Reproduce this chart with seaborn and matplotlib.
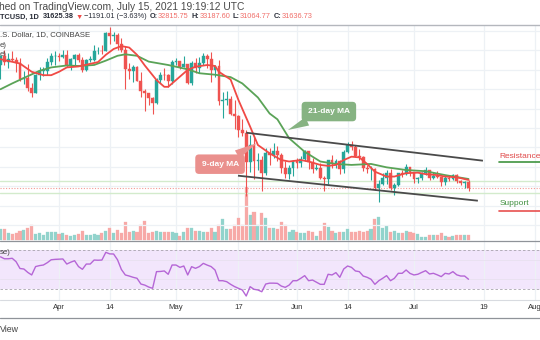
import matplotlib
matplotlib.use("Agg")
import matplotlib.pyplot as plt
from matplotlib.lines import Line2D
import numpy as np
import pandas as pd
import seaborn as sns

# ---------------- data (BTC/USD daily, thousands of USD) ----------------
first_day = "2021-03-17"
opens = [56.9, 58.9, 57.6, 58.3, 58.1, 57.4, 54.1, 54.3, 52.3, 51.3,
         55.0, 55.8, 55.8, 57.6, 58.8, 58.8, 58.7, 59.0, 57.1, 58.2,
         59.1, 58.0, 56.0, 58.1, 58.1, 59.8, 59.9, 59.8, 63.6, 62.9,
         63.2, 61.4, 60.0, 56.2, 55.7, 56.5, 53.8, 51.7, 51.2, 50.1,
         49.1, 54.0, 55.0, 54.9, 53.6, 57.7, 57.8, 56.6, 57.2, 53.2,
         57.5, 56.4, 57.4, 58.9, 58.3, 55.9, 56.8, 49.5, 49.7, 49.9,
         46.8, 46.4, 43.6, 42.9, 37.0, 40.6, 37.3, 37.5, 34.7, 38.8,
         38.4, 39.3, 38.5, 35.7, 34.6, 35.7, 37.3, 36.7, 37.6, 39.2,
         36.9, 35.5, 35.8, 33.6, 33.4, 37.4, 36.7, 37.3, 35.6, 39.1,
         40.5, 40.1, 38.3, 38.1, 35.8, 35.5, 35.6, 31.7, 32.5, 33.7,
         34.7, 31.6, 32.2, 34.7, 34.5, 35.9, 35.0, 33.5, 33.8, 34.7,
         35.3, 33.7, 34.2, 33.9, 32.9, 33.8, 33.5, 34.3, 33.1, 32.7,
         32.82]
highs = [59.0, 60.1, 59.5, 59.9, 58.6, 58.4, 55.8, 57.2, 53.2, 55.1,
         56.6, 56.6, 58.4, 59.4, 59.8, 59.5, 60.0, 60.0, 58.5, 59.3,
         59.5, 58.7, 58.2, 58.9, 61.2, 60.7, 61.2, 63.8, 64.9, 63.8,
         63.6, 62.6, 61.0, 57.5, 57.0, 56.8, 55.5, 52.1, 51.2, 50.5,
         54.4, 55.5, 56.4, 55.2, 58.0, 58.5, 57.9, 58.9, 57.2, 57.9,
         58.4, 58.6, 59.5, 59.3, 59.6, 56.9, 58.0, 51.4, 51.6, 50.7,
         49.8, 46.6, 45.8, 43.6, 42.5, 42.2, 38.8, 38.3, 39.9, 39.8,
         40.9, 40.4, 38.9, 37.3, 36.4, 37.5, 37.9, 38.2, 39.5, 39.3,
         37.9, 36.5, 36.8, 34.1, 37.5, 38.4, 37.7, 37.5, 39.4, 41.1,
         41.3, 40.5, 39.6, 38.2, 36.4, 36.1, 35.7, 33.3, 34.8, 35.3,
         35.5, 32.7, 34.7, 35.3, 36.6, 36.0, 35.0, 33.9, 34.9, 35.9,
         35.3, 35.0, 35.1, 33.9, 34.1, 34.3, 34.6, 34.6, 33.3, 33.1,
         33.19]
lows = [54.1, 57.0, 56.3, 57.8, 55.5, 53.7, 53.0, 51.7, 50.4, 51.3,
        53.9, 54.7, 54.9, 57.0, 56.9, 57.9, 58.5, 56.5, 56.0, 56.8,
        57.7, 55.5, 55.8, 57.7, 57.9, 59.2, 59.3, 59.8, 61.3, 62.0,
        60.0, 59.6, 52.0, 54.2, 53.4, 53.6, 50.5, 47.5, 48.7, 47.0,
        48.9, 53.3, 53.9, 52.4, 53.1, 57.1, 56.1, 56.5, 53.1, 52.9,
        55.3, 55.4, 56.9, 56.3, 53.5, 54.5, 48.8, 46.0, 48.8, 46.6,
        43.8, 42.1, 42.3, 30.0, 35.0, 33.5, 35.3, 31.1, 34.3, 36.4,
        37.8, 37.2, 34.7, 33.6, 33.4, 34.2, 35.7, 35.9, 37.2, 35.6,
        34.8, 35.3, 33.4, 31.0, 32.4, 35.8, 35.7, 34.6, 34.8, 38.8,
        39.5, 38.1, 37.4, 35.1, 34.8, 33.3, 31.3, 28.8, 32.3, 32.4,
        31.3, 30.2, 32.0, 33.9, 34.3, 34.1, 32.7, 32.7, 33.3, 34.4,
        33.2, 33.5, 33.8, 32.1, 32.3, 33.0, 33.3, 32.7, 32.2, 31.6,
        31.06]
closes = [58.9, 57.6, 58.3, 58.1, 57.4, 54.1, 54.3, 52.3, 51.3, 55.0,
          55.8, 55.8, 57.6, 58.8, 58.8, 58.7, 59.0, 57.1, 58.2, 59.1,
          58.0, 56.0, 58.1, 58.1, 59.8, 59.9, 59.8, 63.6, 62.9, 63.2,
          61.4, 60.0, 56.2, 55.7, 56.5, 53.8, 51.7, 51.2, 50.1, 49.1,
          54.0, 55.0, 54.9, 53.6, 57.7, 57.8, 56.6, 57.2, 53.2, 57.5,
          56.4, 57.4, 58.9, 58.3, 55.9, 56.8, 49.5, 49.7, 49.9, 46.8,
          46.4, 43.6, 42.9, 37.0, 40.6, 37.3, 37.5, 34.7, 38.8, 38.4,
          39.3, 38.5, 35.7, 34.6, 35.7, 37.3, 36.7, 37.6, 39.2, 36.9,
          35.5, 35.8, 33.6, 33.4, 37.4, 36.7, 37.3, 35.6, 39.1, 40.5,
          40.1, 38.3, 38.1, 35.8, 35.5, 35.6, 31.7, 32.5, 33.7, 34.7,
          31.6, 32.2, 34.7, 34.5, 35.9, 35.0, 33.5, 33.8, 34.7, 35.3,
          33.7, 34.2, 33.9, 32.9, 33.8, 33.5, 34.3, 33.1, 32.7, 32.8,
          31.64]
volume_k = [10.7, 10.7, 7.3, 5.7, 6.7, 9.3, 10.0, 12.3, 15.0, 5.7,
            6.7, 5.0, 8.3, 7.7, 8.3, 5.7, 6.7, 5.0, 4.0, 5.0,
            6.0, 9.3, 5.0, 5.0, 6.0, 5.0, 6.7, 9.3, 11.7, 6.7,
            10.0, 6.7, 18.3, 8.3, 9.0, 8.3, 15.0, 19.0, 6.7, 7.7,
            9.3, 7.7, 7.7, 7.7, 8.3, 6.7, 4.0, 8.3, 11.7, 11.7,
            9.3, 9.3, 8.3, 8.3, 11.7, 8.3, 15.0, 20.7, 11.0, 11.0,
            15.0, 21.7, 15.0, 53.0, 25.0, 28.3, 15.0, 26.7, 21.7, 12.0,
            11.7, 11.0, 18.3, 15.0, 8.3, 10.0, 8.3, 7.3, 7.3, 9.0,
            7.7, 4.3, 9.0, 17.3, 12.7, 9.0, 7.3, 7.7, 7.7, 11.0,
            8.3, 8.3, 9.3, 7.7, 9.0, 10.7, 20.7, 23.3, 11.7, 14.0,
            8.3, 9.0, 7.3, 7.3, 9.0, 7.7, 7.3, 6.0, 3.3, 3.3,
            5.0, 5.0, 5.0, 6.7, 4.0, 2.7, 4.0, 5.0, 5.0, 5.0,
            5.0]
rsi_vals = [63, 61, 61, 61.5, 58, 51, 50.5, 47, 44.4, 53,
            54, 54.6, 57, 60, 60.4, 60.6, 60.8, 55.6, 57.5, 59,
            53, 50.2, 55.6, 55.6, 59.7, 59.5, 59.7, 67.6, 66, 65.9,
            60, 50, 44.4, 43.3, 42, 41, 35.1, 34, 32, 30.7,
            47.8, 48, 48.5, 45.1, 54.6, 54.6, 52.2, 53.6, 44.4, 52.9,
            51.2, 53, 56.3, 54.5, 53, 49.5, 38.5, 38.5, 37.5, 34.8,
            32.5, 30.7, 29, 22.8, 32.4, 29.7, 29, 27.2, 35.1, 36,
            36, 35.8, 33, 31.7, 34, 38.5, 38.5, 41, 43.7, 38.5,
            39.2, 37, 34.8, 34.8, 45.1, 44.4, 46.8, 42, 50.5, 53.6,
            52.2, 48.5, 47.8, 43.3, 42, 40, 34.8, 38.5, 41, 43.7,
            38.5, 41, 46.1, 46.1, 49.5, 46, 44.4, 45.1, 47, 48.8,
            45.4, 46.1, 44.5, 42.7, 46.1, 45.4, 47.8, 44.5, 43.3, 43.3,
            40]
ma9_days = [0, 5, 8, 11, 13, 15, 17, 20, 25, 27, 29, 31, 33, 35, 37, 40,
            42, 43, 45, 48, 50, 53, 55, 56, 59, 61, 64, 66, 69, 72, 74,
            77, 79, 82, 84, 86, 88, 90, 92, 94, 96, 99, 101, 104, 107,
            109, 112, 114, 117, 120]
ma9_vals = [58.2, 57.3, 55.6, 54.9, 54.9, 55.6, 56.5, 56.7, 57.6, 59.1,
            60.3, 60.9, 60.6, 59.1, 56.9, 53.9, 52.5, 52.5, 53.9, 56.0,
            56.65, 57.0, 56.8, 55.6, 54.0, 49.8, 44.3, 40.5, 38.8, 37.4,
            37.1, 37.4, 37.1, 36.4, 36.2, 36.4, 37.4, 38.1, 37.95, 36.6,
            35.0, 34.0, 34.0, 34.7, 34.8, 34.5, 34.3, 34.0, 33.85, 33.3]
ma21_days = [0, 3, 7, 10, 13, 17, 20, 24, 27, 30, 32, 35, 38, 43, 48, 51,
             55, 59, 62, 66, 69, 71, 74, 78, 82, 86, 90, 95, 99, 104, 109,
             114, 120]
ma21_vals = [52.0, 53.2, 54.7, 55.8, 56.5, 56.9, 56.8, 57.0, 57.9, 58.9,
             59.2, 58.9, 57.7, 57.0, 56.1, 55.3, 55.0, 54.5, 53.2, 50.3,
             47.0, 45.8, 41.9, 39.1, 37.1, 36.6, 36.4, 36.6, 35.9, 35.35,
             35.1, 34.3, 33.5]
tick_days = [15, 28, 45, 61, 76, 89, 106, 124, 137]
tick_labels = ["Apr", "14", "May", "17", "Jun", "14", "Jul", "19", "Aug"]
channel_upper = ([63.0, 123.7], [43.04, 37.27])
channel_lower = ([60.9, 122.4], [34.18, 29.02])
level_lines = [33.1, 30.7]
last_price = 31.63
grid_prices = [24, 28, 32, 36, 40, 44, 48, 52, 56, 60, 64]

# ---------------- style ----------------
sns.set_style("white")
plt.rcParams["font.family"] = ["Liberation Sans", "DejaVu Sans"]

UP, DOWN = "#26a69a", "#ef5350"
VUP, VDOWN = "#92d3cc", "#f7a9a7"
GRID = "#edf1f5"

W, H = 540, 340
fig = plt.figure(figsize=(W / 100, H / 100), dpi=100)
fig.patch.set_facecolor("white")

def fx(px):
    return px / W

def fy(py):
    return 1 - py / H

XL = (-0.128, 138.33)
main_rect = [0, fy(241), 1, (241 - 25) / H]
rsi_rect = [0, fy(300), 1, (300 - 241) / H]

df = pd.DataFrame({"day": np.arange(len(closes)), "open": opens, "high": highs,
                   "low": lows, "close": closes, "vol": volume_k, "rsi": rsi_vals})
df["date"] = pd.date_range(first_day, periods=len(df), freq="D")
up = df["close"] >= df["open"]

# volume axes (behind)
vax = fig.add_axes(main_rect)
vax.set_xlim(*XL)
vax.set_ylim(-1, 215)
for d in tick_days:
    vax.axvline(d, color=GRID, lw=0.9, zorder=0)
vcols = np.where(up, VUP, VDOWN)
vax.bar(df["day"], df["vol"], width=0.8, color=vcols, edgecolor=vcols,
        linewidth=0.2, zorder=2)
vax.axis("off")

# main price axes (on top, transparent)
ax = fig.add_axes(main_rect)
ax.patch.set_alpha(0)
ax.set_xlim(*XL)
ax.set_ylim(20.712, 65.247)
for p in grid_prices:
    ax.axhline(p, color=GRID, lw=0.9, zorder=0)
for p in level_lines:
    ax.axhline(p, color="#d3ebcc", lw=1.0, zorder=1)
ax.axhline(last_price, color="#f49a96", lw=0.8, ls=(0, (1, 1.5)), zorder=1)

colors = np.where(up, UP, DOWN)
ax.vlines(df["day"], df["low"], df["high"], colors=colors, lw=0.8, zorder=3)
body_bottom = np.minimum(df["open"], df["close"])
body_h = np.maximum(np.abs(df["close"] - df["open"]), 0.12)
ax.bar(df["day"], body_h, bottom=body_bottom, width=0.72, color=colors,
       edgecolor=colors, linewidth=0.3, zorder=4)

sns.lineplot(x=ma21_days, y=ma21_vals, ax=ax, color="#5aa357", lw=1.3, zorder=5)
sns.lineplot(x=ma9_days, y=ma9_vals, ax=ax, color="#f04a45", lw=1.3, zorder=6)

ax.plot(*channel_upper, color="#4a4a4a", lw=1.3, zorder=7, solid_capstyle="butt")
ax.plot(*channel_lower, color="#4a4a4a", lw=1.3, zorder=7, solid_capstyle="butt")

# callouts
ax.annotate("21-day MA", xy=(73.7, 43.6), xytext=(84.2, 47.4),
            fontsize=6, fontweight="bold", color="white", ha="center", va="center",
            bbox=dict(boxstyle="round,pad=0.75,rounding_size=0.45", fc="#86b382", ec="none"),
            arrowprops=dict(arrowstyle="wedge,tail_width=1.1,shrink_factor=0.5",
                            fc="#86b382", ec="none", shrinkA=0, shrinkB=0),
            zorder=9)
ax.annotate("9-day MA", xy=(65.8, 40.9), xytext=(56.3, 36.55),
            fontsize=6, fontweight="bold", color="white", ha="center", va="center",
            bbox=dict(boxstyle="round,pad=0.75,rounding_size=0.45", fc="#ea908d", ec="none"),
            arrowprops=dict(arrowstyle="wedge,tail_width=1.1,shrink_factor=0.5",
                            fc="#ea908d", ec="none", shrinkA=0, shrinkB=0),
            zorder=9)

# Resistance / Support labels
ax.text(127.9, 38.05, "Resistance", fontsize=6, color="#e04b4b", ha="left",
        va="center", clip_on=False, zorder=9)
ax.plot([127.9, 140], [36.92, 36.92], color="#3f943f", lw=1.2, zorder=9, clip_on=False)
ax.text(128.1, 28.4, "Support", fontsize=6, color="#3f8f3f", ha="left",
        va="center", clip_on=False, zorder=9)
ax.plot([127.9, 140], [26.95, 26.95], color="#e8504f", lw=1.2, zorder=9, clip_on=False)
ax.axis("off")

# legend texts
ax.text(0.0, 1 - 10 / 216, ".S. Dollar, 1D, COINBASE", transform=ax.transAxes,
        fontsize=5.6, color="#444", ha="left", va="center")
ax.text(0.0, 1 - 20.5 / 216, "e)", transform=ax.transAxes,
        fontsize=5.6, color="#444", ha="left", va="center")
ax.text(0.0, 1 - 30 / 216, "e)", transform=ax.transAxes,
        fontsize=5.6, color="#444", ha="left", va="center")

# RSI pane
rax = fig.add_axes(rsi_rect)
rax.set_xlim(*XL)
rax.set_ylim(18.72, 79.23)
rax.axhspan(30, 70, color="#f2e6fc", lw=0, zorder=0)
for d in tick_days:
    rax.axvline(d, color=GRID, lw=0.9, zorder=0.5)
for v in (40, 60):
    rax.axhline(v, color="#e9e1f1", lw=0.7, zorder=0.6)
for v in (30, 70):
    rax.axhline(v, color="#a7a3ad", lw=0.6, ls=(0, (3, 2.5)), zorder=1)
sns.lineplot(data=df, x="day", y="rsi", ax=rax, color="#b566d6", lw=1.0, zorder=3)
rax.set_xticks(tick_days, tick_labels)
rax.set_yticks([])
rax.set_xlabel("")
rax.set_ylabel("")
rax.tick_params(axis="x", length=0, pad=3.2, labelsize=5.6, labelcolor="#333")
for s in rax.spines.values():
    s.set_visible(False)
rax.text(0.0, 1 - 11 / 59, "se)", transform=rax.transAxes, fontsize=5.6,
         color="#444", ha="left", va="center")

# frame lines
def hline(py, color, lw):
    fig.add_artist(Line2D([0, 1], [fy(py), fy(py)], color=color, lw=lw,
                          transform=fig.transFigure))

hline(25, "#b4b7bd", 1.0)
hline(241, "#8f9399", 0.9)
hline(300, "#d8dbe0", 0.8)
hline(318, "#8f9399", 0.9)

# header
fig.text(fx(-1), fy(7), "hed on TradingView.com, July 15, 2021 19:19:12 UTC",
         fontsize=7.4, color="#4a4a4a", ha="left", va="center")
DARK, RED = "#2a2e39", "#f06e69"
segments = [
    ("TCUSD, 1D", DARK, "bold", 4.5),
    ("31625.38", DARK, "bold", 1.5),
    ("\u25bc", "#ef4b47", "normal", 1.5),
    ("\u22121191.01 (\u22123.63%)", DARK, "normal", 2.5),
    ("O:", DARK, "bold", 0.3),
    ("32815.75", RED, "normal", 2.5),
    ("H:", DARK, "bold", 0.3),
    ("33187.60", RED, "normal", 2.5),
    ("L:", DARK, "bold", 0.3),
    ("31064.77", RED, "normal", 2.5),
    ("C:", DARK, "bold", 0.3),
    ("31636.73", RED, "normal", 0),
]
renderer = fig.canvas.get_renderer()
xpos = 0.0
for txt, col, wt, gap in segments:
    t = fig.text(fx(xpos), fy(17), txt, fontsize=5.3, color=col, fontweight=wt,
                 ha="left", va="center")
    xpos += t.get_window_extent(renderer).width + gap

fig.text(fx(0), fy(329), "View", fontsize=6.3, color="#444", ha="left", va="center")

fig.savefig("out.png", dpi=100)
